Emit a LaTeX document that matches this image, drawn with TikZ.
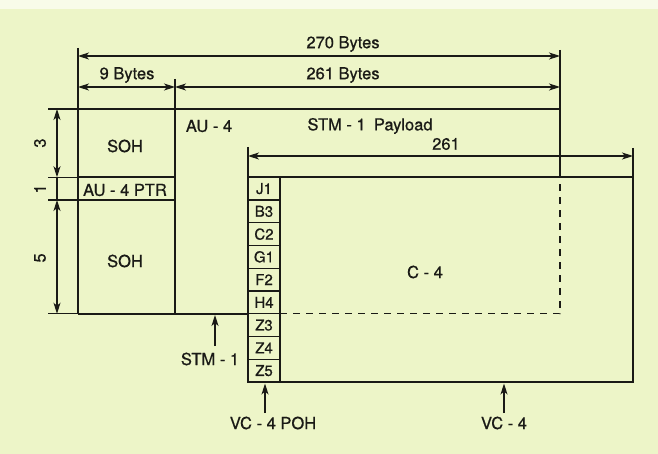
\documentclass[tikz,border=0pt]{standalone}
\usepackage{fontspec}
\setmainfont{TeX Gyre Heros}[FakeBold=0.7]
\usetikzlibrary{arrows.meta}
\definecolor{paper}{HTML}{EDF5C8}
\definecolor{ink}{HTML}{1A1A16}
\begin{document}
\begin{tikzpicture}[x=1pt,y=-1pt,
  frame/.style={draw=ink,line width=2.1pt},
  thin/.style={draw=ink,line width=1.1pt},
  tip/.tip={Stealth[length=11pt,width=7pt,inset=3pt]},
  dimboth/.style={thin,tip-tip},
  dimup/.style={thin,line width=1.4pt,-tip},
  dashline/.style={draw=ink,line width=1.3pt,dash pattern=on 7pt off 6pt},
  lbl/.style={font=\fontsize{16.5}{19}\selectfont,inner sep=0pt,text=ink},
  cell/.style={draw=ink,line width=1.2pt,minimum width=32pt,minimum height=22.75pt,
    inner sep=0pt,font=\fontsize{15}{17}\selectfont,text=ink}
]
\useasboundingbox (0,0) rectangle (658,454);
\fill[paper] (0,0) rectangle (658,454);
\fill[white!60!paper] (0,0) rectangle (658,9);

% key coordinates
\coordinate (stmTL) at (78,109);
\coordinate (sohR) at (175,109);
\coordinate (stmTR) at (560,109);
\coordinate (vcTL) at (248,177.25);
\coordinate (vcBR) at (633,382);

% dimension extension lines
\draw[thin] (78,48) -- (stmTL);
\draw[thin] (560,50) -- (stmTR);
\draw[thin] (175,79) -- (sohR);
\draw[thin] (248,147) -- (vcTL);
\draw[thin] (633,148) -- (633,177.25);
\draw[thin] (48,109) -- (stmTL);
\draw[thin] (48,177.25) -- (78,177.25);
\draw[thin] (48,200) -- (78,200);
\draw[thin] (48,313.75) -- (78,313.75);

% horizontal dimensions
\draw[dimboth] (78,56) -- (560,56);
\node[lbl] (d270) at (343,44) {270 Bytes};
\draw[dimboth] (78,87) -- (175,87);
\node[lbl] (d9) at (127,75) {9 Bytes};
\draw[dimboth] (175,87) -- (560,87);
\node[lbl] (d261b) at (343,75) {261 Bytes};
\draw[dimboth] (248,156) -- (633,156);
\node[lbl] (d261) at (446,144) {261};

% vertical dimensions
\draw[dimboth] (57,109) -- (57,177.25);
\draw[thin] (57,177.25) -- (57,200);
\draw[dimboth] (57,200) -- (57,313.75);
\node[lbl,rotate=90] (v3) at (40,143) {3};
\node[lbl,rotate=90] (v1) at (40,189) {1};
\node[lbl,rotate=90] (v5) at (40,258) {5};

% STM-1 frame
\draw[frame] (78,313.75) -- (stmTL) -- (stmTR) -- (560,177.25);
\draw[frame] (78,313.75) -- (248,313.75);
\draw[frame] (sohR) -- (175,313.75);
\draw[frame] (78,177.25) -- (175,177.25);
\draw[frame] (78,200) -- (175,200);

% C-4 dashed outline
\draw[dashline] (280,313.75) -- (560,313.75) -- (560,177.25);

% VC-4 frame
\draw[frame] (vcTL) rectangle (vcBR);

% POH cells
\foreach \t [count=\i from 0] in {J1,B3,C2,G1,F2,H4,Z3,Z4,Z5}{
  \node[cell] (poh\i) at (264,{177.25+22.75*\i+11.375}) {\t};
}
\draw[frame] (280,177.25) -- (280,382);

% labels
\node[lbl] (soh1) at (125,146) {SOH};
\node[lbl] (ptr) at (125,190) {AU - 4 PTR};
\node[lbl] (soh2) at (125,261) {SOH};
\node[lbl] (au4) at (209,126) {AU - 4};
\node[lbl] (pay) at (370,126) {STM - 1\enspace Payload};
\node[lbl] (c4) at (425,272) {C - 4};

% pointer arrows
\coordinate (stmtip) at (215,315);
\node[lbl] (stml) at (210,359) {STM - 1};
\draw[dimup] (215,346) -- (stmtip);
\coordinate (pohtip) at (265,383.5);
\node[lbl] (pohl) at (273,423) {VC - 4 POH};
\draw[dimup] (265,413) -- (pohtip);
\coordinate (vctip) at (504,383.5);
\node[lbl] (vcl) at (504,423) {VC - 4};
\draw[dimup] (504,413) -- (vctip);
\end{tikzpicture}
\end{document}
